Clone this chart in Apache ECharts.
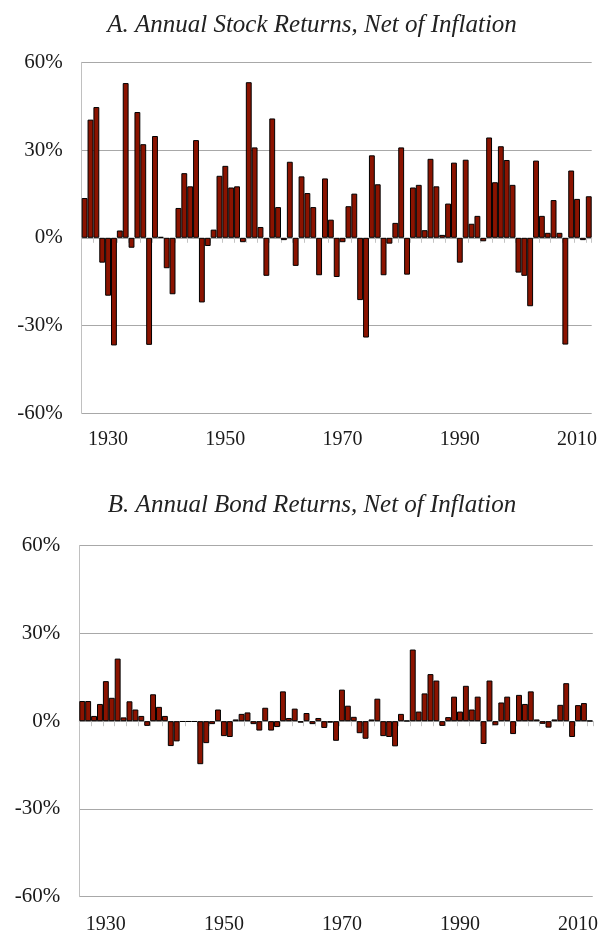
<!DOCTYPE html>
<html>
<head>
<meta charset="utf-8">
<script src="https://cdn.jsdelivr.net/npm/echarts@6/dist/echarts.min.js"></script>
<style>
html,body{margin:0;padding:0;background:#fff;}
#chart{width:601px;height:935px;}
</style>
</head>
<body>
<div id="chart"></div>
<script>
// Years 1926-2012
const years = [];
for (let y = 1926; y <= 2012; y++) years.push(String(y));

const stockReturns = [
  13.6, 40.4, 44.7, -8.5, -19.8, -36.8, 2.5, 52.9, -3.4, 43.0,
  32.0, -36.6, 34.8, 0.3, -10.4, -19.3, 10.2, 22.1, 17.6, 33.4,
  -22.1, -2.8, 2.8, 21.2, 24.6, 17.2, 17.6, -1.5, 53.2, 30.9,
  3.7, -13.0, 40.8, 10.5, -0.8, 26.0, -9.6, 21.0, 15.3, 10.5,
  -12.8, 20.3, 6.2, -13.4, -1.5, 10.8, 15.1, -21.3, -34.1, 28.2,
  18.3, -12.8, -2.0, 5.1, 30.9, -12.6, 17.2, 18.1, 2.6, 27.0,
  17.6, 1.0, 11.7, 25.7, -8.5, 26.7, 4.8, 7.5, -1.2, 34.3,
  19.0, 31.3, 26.6, 18.1, -11.9, -13.0, -23.4, 26.4, 7.5, 1.7,
  12.9, 1.7, -36.5, 23.0, 13.3, -0.8, 14.2
];

const bondReturns = [
  6.9, 6.9, 1.8, 5.9, 13.7, 8.0, 21.4, 1.3, 6.8, 4.0,
  1.8, -1.6, 9.2, 4.9, 1.8, -8.5, -6.9, -0.2, -0.2, -0.2,
  -14.7, -7.5, -1.0, 4.0, -5.1, -5.4, 0.6, 2.5, 3.0, -1.0,
  -3.2, 4.6, -3.2, -2.0, 10.2, 1.1, 4.3, -0.5, 2.8, -1.0,
  1.1, -2.3, -0.5, -6.7, 10.8, 5.3, 1.5, -4.1, -6.0, 0.6,
  7.7, -5.1, -5.4, -8.6, 2.5, 0.2, 24.5, 3.3, 9.5, 16.1,
  13.9, -1.6, 1.4, 8.4, 3.3, 12.1, 4.0, 8.4, -7.8, 13.9,
  -1.4, 6.4, 8.4, -4.4, 9.0, 5.9, 10.2, 0.6, -0.9, -2.2,
  0.6, 5.6, 13.0, -5.4, 5.5, 6.2, 0.2
];

const yTicks = { min: -60, max: 60, interval: 30 };
const labelYears = ['1930', '1950', '1970', '1990', '2010'];
const titles = ['A. Annual Stock Returns, Net of Inflation', 'B. Annual Bond Returns, Net of Inflation'];

const chart = echarts.init(document.getElementById('chart'), null, { renderer: 'canvas' });

const serif = '"Liberation Serif", "Times New Roman", serif';
const barColor = '#8b1300';
const gridColor = '#a8a8a8';

const grids = [
  { left: 81.7, right: 9.3, top: 62.3, height: 351 },
  { left: 79.3, right: 6.7, top: 545.7, height: 351 }
];

const xAxes = [];
const yAxes = [];
const series = [];
const datasets = [stockReturns, bondReturns];
const labelMargins = [16, 18];

grids.forEach((g, gi) => {
  // label axis at bottom
  xAxes.push({
    type: 'category', gridIndex: gi, data: years, position: 'bottom',
    axisLine: { show: false, onZero: false },
    axisTick: { show: false },
    axisLabel: {
      interval: (idx, val) => labelYears.indexOf(val) >= 0,
      fontFamily: serif, fontSize: 20, color: '#1a1a1a', margin: labelMargins[gi]
    },
    splitLine: { show: false }
  });
  // zero-line axis with ticks
  xAxes.push({
    type: 'category', gridIndex: gi, data: years, position: 'bottom',
    axisLine: { show: true, onZero: true, lineStyle: { color: gridColor, width: 1 } },
    axisTick: { show: true, interval: 1, length: 5, lineStyle: { color: '#c4c4c4' } },
    axisLabel: { show: false },
    splitLine: { show: false }
  });
  yAxes.push({
    type: 'value', gridIndex: gi, min: yTicks.min, max: yTicks.max, interval: yTicks.interval,
    axisLine: { show: true, lineStyle: { color: '#c0c0c0' } },
    axisTick: { show: false },
    axisLabel: { formatter: '{value}%', fontFamily: serif, fontSize: 21, color: '#1a1a1a', margin: 19 },
    splitLine: { show: true, lineStyle: { color: gridColor, width: 1 } }
  });
  series.push({
    type: 'bar', xAxisIndex: gi * 2, yAxisIndex: gi, data: datasets[gi],
    barCategoryGap: '0%', barGap: '0%',
    itemStyle: { color: barColor, borderColor: '#000', borderWidth: 1 },
    animation: false
  });
});

const titleStyle = { fontFamily: serif, fontStyle: 'italic', fontWeight: 'normal', fontSize: 25, color: '#222' };

chart.setOption({
  animation: false,
  backgroundColor: '#fff',
  title: [
    { text: titles[0], left: 307, top: 8, textAlign: 'center', textStyle: titleStyle },
    { text: titles[1], left: 307, top: 488, textAlign: 'center', textStyle: titleStyle }
  ],
  grid: grids,
  xAxis: xAxes,
  yAxis: yAxes,
  series: series
});
</script>
</body>
</html>
